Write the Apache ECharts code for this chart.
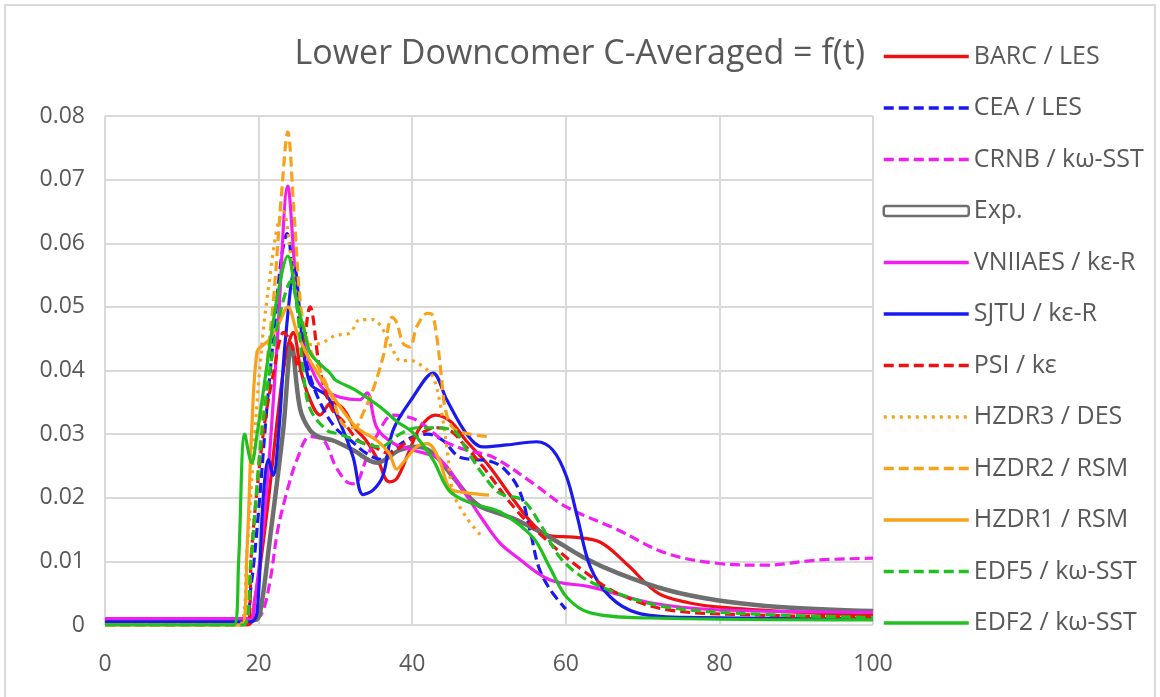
<!DOCTYPE html>
<html>
<head>
<meta charset="utf-8">
<script src="https://cdn.jsdelivr.net/npm/echarts@6/dist/echarts.min.js"></script>
<style>
  html, body { margin: 0; padding: 0; background: #fff; }
  #chart { width: 1160px; height: 697px; }
</style>
</head>
<body>
<div id="chart"></div>
<script>
// [t, C] points
const barcLes = [[0,0],[18.5,0],[19.5,0.004],[20.5,0.012],[21.5,0.022],[22.5,0.033],[23.5,0.042],[24.5,0.046],[25.5,0.04],[26.5,0.036],[28,0.033],[29.5,0.035],[31,0.034],[32.5,0.031],[34,0.029],[35.5,0.026],[37,0.0225],[38,0.023],[39.5,0.027],[41,0.031],[43,0.033],[45,0.032],[47,0.029],[50,0.025],[53,0.02],[56,0.0155],[58,0.014],[61,0.0138],[64.5,0.013],[68,0.0095],[72,0.005],[76,0.0035],[80,0.0028],[90,0.002],[100,0.0015]];
const ceaLes = [[0,0.0005],[18,0.0005],[19,0.006],[20,0.018],[21,0.033],[22,0.046],[23,0.058],[23.7,0.0615],[24.5,0.055],[25.5,0.046],[26.5,0.04],[28,0.035],[30,0.031],[32,0.029],[34,0.027],[36,0.026],[38,0.028],[40,0.0295],[42,0.03],[44,0.029],[46,0.0265],[48,0.026],[50,0.0258],[52,0.0245],[54,0.021],[55.5,0.014],[56.5,0.009],[58,0.0055],[60,0.0025]];
const crnbSst = [[0,0.001],[19.5,0.001],[20.5,0.002],[21.5,0.007],[22.5,0.015],[23.7,0.021],[25,0.026],[26.7,0.0296],[28.5,0.029],[30,0.025],[31.5,0.0225],[32.5,0.0222],[34,0.026],[35.5,0.03],[37.5,0.033],[40,0.0325],[42,0.031],[44,0.029],[47,0.0275],[50.5,0.0264],[55.7,0.0223],[60,0.0186],[66.7,0.015],[73,0.0113],[79.7,0.0097],[86,0.0094],[92.7,0.0102],[100,0.0105]];
const expData = [[0,0.0008],[19.5,0.0008],[20.2,0.002],[21.5,0.0138],[23.2,0.0306],[24.3,0.044],[25.4,0.034],[26.7,0.0306],[28,0.0295],[29.7,0.029],[32.3,0.0275],[35.4,0.0255],[38.4,0.0275],[40.6,0.028],[42.7,0.027],[45.3,0.0233],[48.4,0.019],[51.4,0.0175],[53.6,0.0165],[57.9,0.0138],[62.2,0.0107],[66.7,0.0082],[73.2,0.0055],[79.7,0.0039],[88.3,0.0028],[100,0.0022]];
const vniiaesKeR = [[0,0.001],[18.8,0.001],[19.5,0.004],[20.5,0.014],[21.5,0.028],[22.5,0.046],[23.8,0.069],[24.8,0.055],[25.8,0.045],[27,0.04],[28.5,0.037],[30.6,0.0358],[33.2,0.0354],[34.1,0.0365],[35.4,0.031],[37.5,0.0286],[40.1,0.0275],[43.6,0.026],[46.6,0.0212],[49.2,0.0165],[51.4,0.0129],[53.6,0.0107],[57.9,0.0071],[63.2,0.006],[71,0.0035],[79.7,0.0024],[100,0.002]];
const sjtuKeR = [[0,0.0005],[19,0.0005],[19.8,0.002],[20.6,0.02],[21.3,0.026],[21.9,0.0235],[22.6,0.03],[23.5,0.045],[24.7,0.056],[25.6,0.046],[26.7,0.038],[28.9,0.036],[30.6,0.0318],[32.3,0.0264],[33.6,0.0205],[34.9,0.0212],[36.2,0.0235],[37.5,0.0306],[40.1,0.0358],[42.7,0.0396],[44.5,0.0354],[47.1,0.03],[49.2,0.028],[52.3,0.0283],[56.2,0.0288],[58.3,0.0275],[60.1,0.0233],[61.5,0.017],[63.2,0.0091],[65.8,0.0044],[69.3,0.0019],[75.3,0.0012],[100,0.001]];
const psiKe = [[0,0],[18.5,0],[19.1,0.012],[20.6,0.03],[22,0.04],[23.3,0.046],[24.3,0.044],[25.3,0.04],[26.7,0.05],[28,0.04],[29.5,0.034],[31,0.032],[33,0.029],[35,0.028],[37,0.027],[39,0.0285],[41,0.03],[43,0.031],[44.9,0.0306],[47,0.028],[49.2,0.0249],[53.6,0.018],[57.9,0.0129],[62.2,0.0086],[66.7,0.005],[73.2,0.0024],[84,0.0016],[100,0.0012]];
const hzdr3Des = [[0,0],[17.5,0],[18.5,0.012],[19.5,0.03],[20.5,0.045],[21.5,0.055],[22.5,0.063],[23.2,0.065],[24.2,0.058],[25.5,0.048],[27,0.044],[28.5,0.0445],[30,0.0455],[31.9,0.0459],[33.2,0.048],[34.9,0.048],[36.2,0.0464],[37.5,0.0432],[38.5,0.0415],[39.7,0.0416],[41.4,0.0406],[42.7,0.039],[43.6,0.035],[44.5,0.028],[45.3,0.021],[47,0.017],[49,0.014]];
const hzdr2Rsm = [[0,0],[18,0],[19,0.01],[20,0.025],[21,0.04],[22,0.052],[23,0.068],[23.8,0.0775],[24.6,0.065],[25.5,0.05],[26.5,0.044],[28,0.04],[29.5,0.036],[31,0.0315],[32.5,0.031],[33.6,0.0333],[34.9,0.037],[36.2,0.0421],[37.4,0.0484],[38,0.0475],[38.8,0.0443],[39.7,0.0437],[40.6,0.0469],[42,0.049],[42.6,0.0488],[43.2,0.0453],[43.8,0.039],[44.3,0.034],[45.3,0.031],[47.5,0.03],[50,0.0296]];
const hzdr1Rsm = [[0,0],[17.8,0],[18.5,0.012],[19.1,0.0306],[19.8,0.043],[20.6,0.044],[21.5,0.045],[22.5,0.047],[23.8,0.05],[25,0.046],[26.5,0.042],[28,0.039],[30.6,0.0343],[32.8,0.031],[35.4,0.029],[37,0.027],[38,0.0245],[38.8,0.0255],[40.6,0.028],[42,0.0285],[43.5,0.026],[44.9,0.0215],[47,0.0208],[50,0.0204]];
const edf5Sst = [[0,0],[18,0],[19,0.01],[20,0.025],[21,0.036],[22,0.044],[23,0.05],[24.2,0.054],[25,0.05],[25.8,0.04],[26.7,0.034],[28.9,0.0306],[30.6,0.03],[33.6,0.0286],[35.8,0.028],[38.4,0.03],[40.6,0.031],[42.7,0.031],[45.3,0.0306],[47.1,0.0275],[49,0.024],[51.4,0.0207],[54.4,0.0196],[56.6,0.016],[59.2,0.0107],[62.2,0.0075],[66.7,0.005],[73.2,0.0028],[85,0.0017],[100,0.0012]];
const edf2Sst = [[0,0],[16.8,0],[17.4,0.01],[18.2,0.03],[19.1,0.0255],[19.8,0.03],[21,0.04],[22.5,0.052],[23.8,0.058],[25,0.0506],[26,0.046],[26.7,0.0428],[28,0.041],[29.3,0.0396],[30,0.0385],[32.5,0.037],[35.8,0.0343],[38,0.032],[40.1,0.0302],[42.7,0.026],[44.9,0.021],[48,0.019],[51.4,0.0178],[55.7,0.0138],[57.9,0.0091],[60.1,0.0044],[63.2,0.0019],[71,0.0011],[100,0.0008]];

const seriesNames = ['BARC / LES', 'CEA / LES', 'CRNB / kω-SST', 'Exp.', 'VNIIAES / kε-R', 'SJTU / kε-R',
    'PSI / kε', 'HZDR3 / DES', 'HZDR2 / RSM', 'HZDR1 / RSM', 'EDF5 / kω-SST', 'EDF2 / kω-SST'];
const seriesData = [barcLes, ceaLes, crnbSst, expData, vniiaesKeR, sjtuKeR,
    psiKe, hzdr3Des, hzdr2Rsm, hzdr1Rsm, edf5Sst, edf2Sst];
const xTicks = [0, 20, 40, 60, 80, 100];

const RED = '#ee1111', BLUE = '#1a1aee', MAGENTA = '#f01ef0', GREY = '#6e6e6e',
      ORANGE = '#f8a21c', GREEN = '#20c020';
const DASH = [10, 5], DOT = [3, 5];
const styles = [
    { color: RED, type: 'solid' },
    { color: BLUE, type: DASH },
    { color: MAGENTA, type: DASH },
    { color: GREY, type: 'solid', width: 4.5 },
    { color: MAGENTA, type: 'solid' },
    { color: BLUE, type: 'solid' },
    { color: RED, type: DASH },
    { color: ORANGE, type: DOT },
    { color: ORANGE, type: DASH },
    { color: ORANGE, type: 'solid' },
    { color: GREEN, type: DASH },
    { color: GREEN, type: 'solid' }
];

var dom = document.getElementById('chart');
var myChart = echarts.init(dom, null, { renderer: 'canvas' });

const FONT = 'Open Sans';
const TXT = '#595959';

const option = {
    animation: false,
    backgroundColor: '#fff',
    textStyle: { fontFamily: FONT },
    title: {
        text: 'Lower Downcomer C-Averaged = f(t)',
        right: 295,
        top: 37,
        padding: 0,
        textStyle: { fontFamily: FONT, fontSize: 34, fontWeight: 'normal', color: TXT }
    },
    legend: {
        orient: 'vertical',
        left: 882,
        top: 44,
        padding: 0,
        itemWidth: 85,
        itemHeight: 10,
        itemGap: 26.5,
        lineStyle: { width: 3.5 },
        // hide the point marker that line series put in the middle of the icon
        itemStyle: { color: 'rgba(0,0,0,0)', borderWidth: 0, opacity: 0 },
        textStyle: { fontFamily: FONT, fontSize: 25, lineHeight: 25, color: TXT },
        data: seriesNames.map(function (n) {
            if (n === 'Exp.') {
                return { name: n, icon: 'roundRect', itemStyle: { color: '#fff', borderColor: GREY, borderWidth: 2.5, opacity: 1 } };
            }
            return { name: n };
        })
    },
    grid: { left: 105, right: 287, top: 116, bottom: 72 },
    xAxis: {
        type: 'value',
        min: xTicks[0],
        max: xTicks[xTicks.length - 1],
        interval: 20,
        axisLine: { show: false },
        axisTick: { show: false },
        axisLabel: { fontFamily: FONT, fontSize: 23, color: TXT, margin: 28 },
        splitLine: { show: true, lineStyle: { color: '#d9d9d9', width: 2 } }
    },
    yAxis: {
        type: 'value',
        min: 0,
        max: 0.08,
        interval: 0.01,
        axisLine: { show: false },
        axisTick: { show: false },
        axisLabel: {
            fontFamily: FONT, fontSize: 23, color: TXT, margin: 20,
            formatter: function (v) { return v === 0 ? '0' : v.toFixed(2); }
        },
        splitLine: { show: true, lineStyle: { color: '#d9d9d9', width: 2 } }
    },
    graphic: [{
        type: 'rect',
        shape: { x: 5, y: 5, width: 1150, height: 700 },
        style: { fill: 'none', stroke: '#d9d9d9', lineWidth: 2 },
        silent: true
    }],
    series: seriesNames.map(function (name, i) {
        const s = styles[i];
        return {
            name: name,
            type: 'line',
            data: seriesData[i],
            symbol: 'none',
            smooth: 0.35,
            color: s.color,
            lineStyle: { color: s.color, width: s.width || 3.2, type: s.type },
            itemStyle: { color: s.color }
        };
    })
};

myChart.setOption(option);
window.addEventListener('resize', myChart.resize);
</script>
</body>
</html>
